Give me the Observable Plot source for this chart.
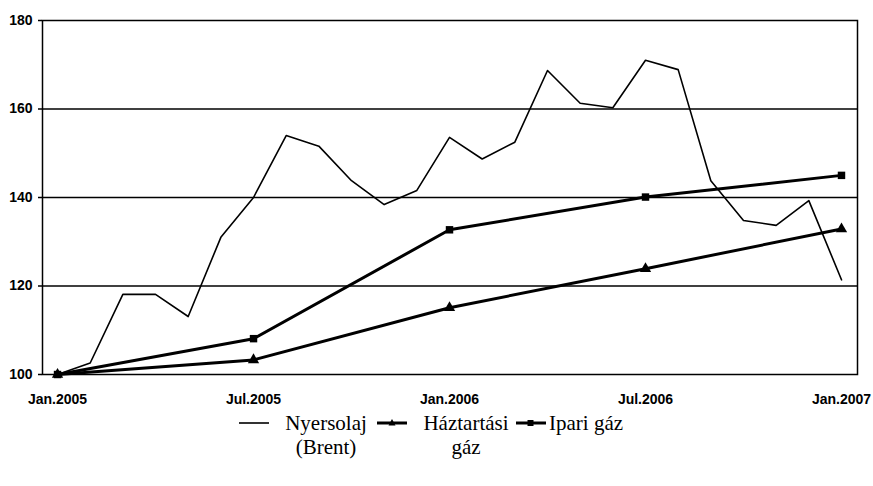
<!DOCTYPE html>
<html>
<head>
<meta charset="utf-8">
<script src="https://cdn.jsdelivr.net/npm/d3@7"></script>
<script src="https://cdn.jsdelivr.net/npm/@observablehq/plot@0.6"></script>
<style>
  body { margin: 0; background: #fff; }
  #wrap { position: relative; width: 873px; height: 486px; }
  .leg { position: absolute; font-family: "Liberation Serif", "Times New Roman", serif; font-size: 21px; line-height: 24px; color: #000; text-align: center; white-space: nowrap; }
  .sw { position: absolute; }
</style>
</head>
<body>
<div id="wrap"></div>
<script>
// Month index 0 = Jan.2005 ... 24 = Jan.2007
const tickMonths = [0, 6, 12, 18, 24];
const tickLabels = ["Jan.2005", "Jul.2005", "Jan.2006", "Jul.2006", "Jan.2007"];
const oilMonths = d3.range(0, 25);
const oil = [100, 102.6, 118.1, 118.1, 113.1, 131.0, 140.0, 154.0, 151.6, 143.8, 138.4, 141.6,
             153.6, 148.7, 152.5, 168.7, 161.3, 160.3, 171.0, 168.9, 143.8, 134.8, 133.7, 139.3, 121.4];
const gasMonths = [0, 6, 12, 18, 24];
const household = [100, 103.3, 115.1, 123.9, 132.9];
const industrial = [100, 108.1, 132.7, 140.1, 145.0];
const seriesNames = ["Nyersolaj (Brent)", "Háztartási gáz", "Ipari gáz"];
const yTicks = [100, 120, 140, 160, 180];
const gridValues = [120, 140, 160];

const oilData = oilMonths.map((m, i) => ({m, v: oil[i]}));
const hhData = gasMonths.map((m, i) => ({m, v: household[i]}));
const indData = gasMonths.map((m, i) => ({m, v: industrial[i]}));

const chart = Plot.plot({
  width: 873,
  height: 410,
  marginLeft: 42,
  marginRight: 16,
  marginTop: 20,
  marginBottom: 36,
  style: {fontFamily: "Liberation Sans, Arial, sans-serif", fontWeight: "bold", fontSize: "14px", color: "#000", background: "#fff"},
  x: {domain: [-0.46, 24.49], label: null},
  y: {domain: [100, 180], label: null},
  marks: [
    Plot.ruleY(gridValues, {stroke: "#000", strokeWidth: 1.5}),
    Plot.frame({stroke: "#000", strokeWidth: 1.5}),
    Plot.axisY({ticks: yTicks, tickSize: 4, tickPadding: 6, strokeWidth: 1.5, label: null}),
    Plot.axisX({ticks: tickMonths, tickFormat: d => tickLabels[tickMonths.indexOf(d)], tickSize: 0, tickPadding: 20, label: null}),
    Plot.line(oilData, {x: "m", y: "v", stroke: "#000", strokeWidth: 1.6}),
    Plot.line(indData, {x: "m", y: "v", stroke: "#000", strokeWidth: 3}),
    Plot.dot(indData, {x: "m", y: "v", symbol: "square", r: 4.2, fill: "#000"}),
    Plot.line(hhData, {x: "m", y: "v", stroke: "#000", strokeWidth: 3}),
    Plot.dot(hhData, {x: "m", y: "v", symbol: "triangle", r: 4.2, fill: "#000"})
  ]
});
const wrap = document.getElementById("wrap");
wrap.appendChild(chart);

// Legend (below the chart)
function swatch(left, symbol) {
  const s = d3.create("svg").attr("class", "sw").attr("width", 36).attr("height", 14)
    .style("left", left + "px").style("top", "416px");
  s.append("line").attr("x1", 2).attr("x2", 32).attr("y1", 7).attr("y2", 7)
    .attr("stroke", "#000").attr("stroke-width", symbol ? 3 : 1.6);
  if (symbol === "triangle") s.append("path").attr("d", "M17,3L20.5,9.5H13.5Z").attr("fill", "#000");
  if (symbol === "square") s.append("rect").attr("x", 13.5).attr("y", 4).attr("width", 6).attr("height", 6).attr("fill", "#000");
  wrap.appendChild(s.node());
}
function label(left, width, html, align) {
  const d = document.createElement("div");
  d.className = "leg";
  d.style.left = left + "px";
  d.style.top = "411px";
  d.style.width = width + "px";
  if (align) d.style.textAlign = align;
  d.innerHTML = html;
  wrap.appendChild(d);
}
swatch(237, null);
label(281, 90, "Nyersolaj<br>(Brent)");
swatch(375, "triangle");
label(418, 96, "Háztartási<br>gáz");
swatch(514, "square");
label(549, 110, "Ipari gáz", "left");
</script>
</body>
</html>
